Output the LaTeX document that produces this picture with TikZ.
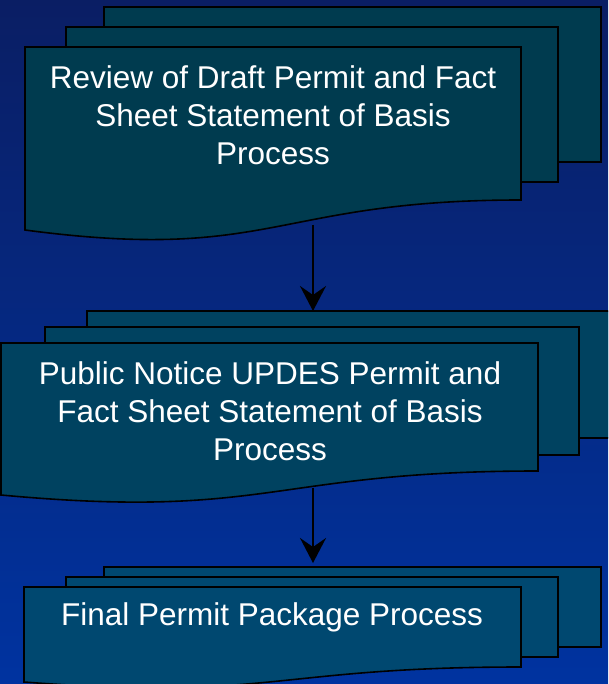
\documentclass[tikz,border=0pt]{standalone}
\usepackage{fontspec}
\setmainfont{Liberation Sans}
\usetikzlibrary{arrows.meta}
\definecolor{bgtop}{RGB}{10,30,100}
\definecolor{bgbot}{RGB}{0,51,160}
\definecolor{fillA}{RGB}{0,59,79}
\definecolor{fillB}{RGB}{0,66,96}
\definecolor{fillC}{RGB}{0,72,112}
\begin{document}
\begin{tikzpicture}[x=1pt,y=-1pt,
  sheet/.style={draw=black,line width=1.6pt,anchor=north west,inner sep=0pt,outer sep=0pt},
  lbl/.style={text=white,font=\fontsize{31.5}{38}\selectfont,align=center,inner sep=0pt},
  flow/.style={draw=black,line width=2pt,-{Stealth[length=25pt,width=26pt,inset=9pt]}}]
\useasboundingbox (0,0) rectangle (608,684);
\shade[top color=bgtop,bottom color=bgbot] (0,0) rectangle (608,684);
\begin{scope}
\clip (0,0) rectangle (608,684);
% ---- block 1
\node[sheet,fill=fillA,minimum width=497pt,minimum height=155pt] (s1back) at (104,7) {};
\node[sheet,fill=fillA,minimum width=492pt,minimum height=155pt] (s1mid) at (66,27) {};
\draw[line width=1.6pt,fill=fillA] (25,47) -- (521,47) -- (521,200)
  .. controls (273,200) and (273,263) .. (25,230) -- cycle;
\node[lbl] (t1) at (273,115) {Review of Draft Permit and Fact\\Sheet Statement of Basis\\Process};
% ---- block 2
\node[sheet,fill=fillB,minimum width=560pt,minimum height=127pt] (s2back) at (87,311) {};
\node[sheet,fill=fillB,minimum width=534pt,minimum height=128pt] (s2mid) at (45,327) {};
\draw[line width=1.6pt,fill=fillB] (1,343) -- (538,343) -- (538,471)
  .. controls (270,471) and (270,520) .. (1,495) -- cycle;
\node[lbl] (t2) at (270,411) {Public Notice UPDES Permit and\\Fact Sheet Statement of Basis\\Process};
% ---- block 3
\node[sheet,fill=fillC,minimum width=497pt,minimum height=80pt] (s3back) at (104,567) {};
\node[sheet,fill=fillC,minimum width=492pt,minimum height=80pt] (s3mid) at (66,577) {};
\draw[line width=1.6pt,fill=fillC] (24,587) -- (521,587) -- (521,667)
  .. controls (273,667) and (273,701) .. (24,682) -- cycle;
\node[lbl] (t3) at (272,617) {Final Permit Package Process};
% ---- connectors
\coordinate (a1) at (313,225);
\coordinate (a2) at (313,488);
\draw[flow] (a1) -- (a1 |- s2back.north);
\draw[flow] (a2) -- ([yshift=4pt]a2 |- s3back.north);
\end{scope}
\end{tikzpicture}
\end{document}
